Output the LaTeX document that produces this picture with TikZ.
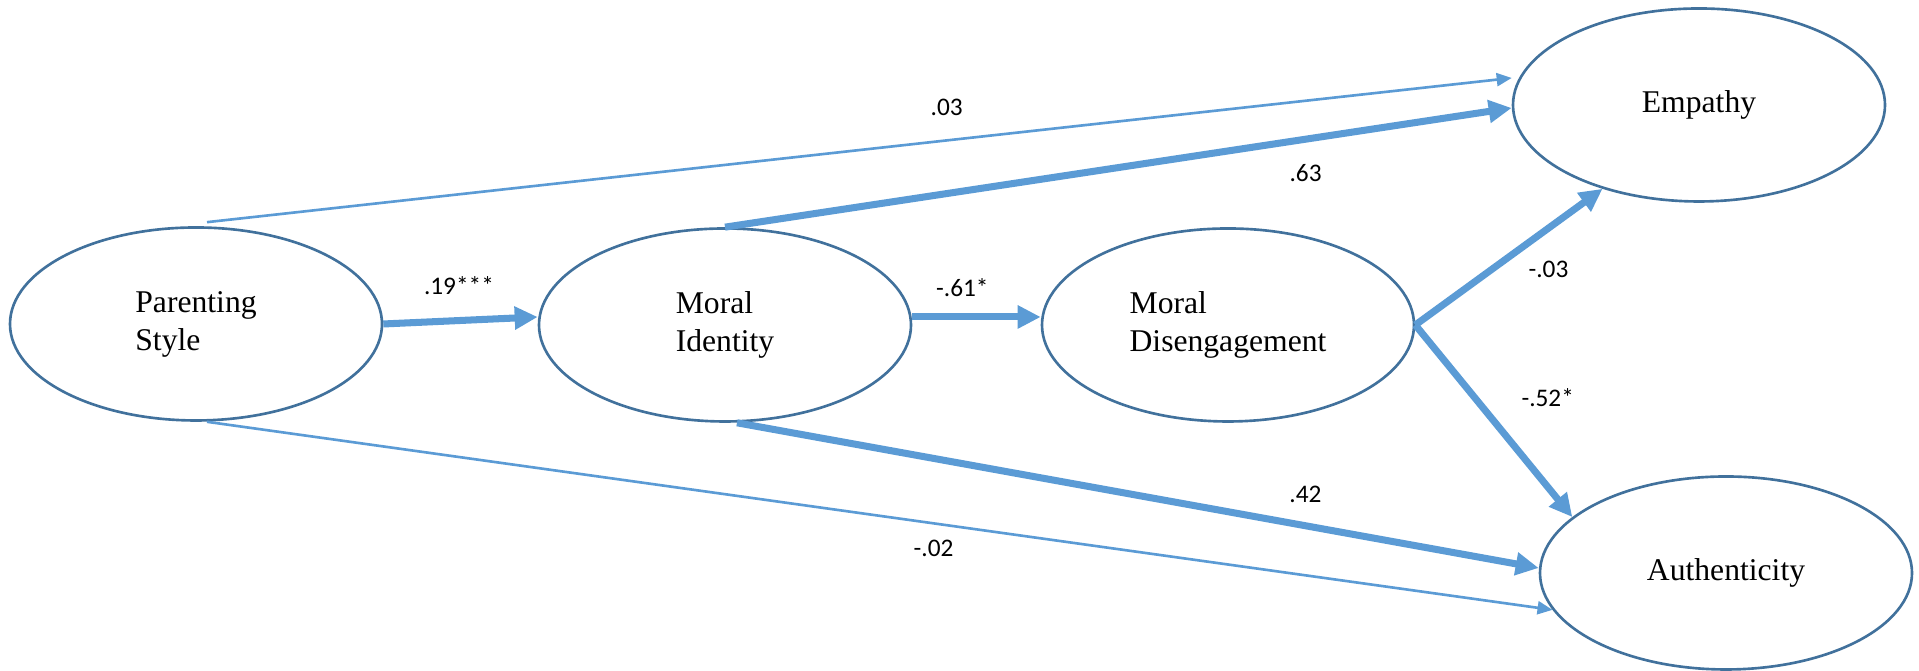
\documentclass[tikz,border=0pt]{standalone}
\usepackage{fontspec}
\setmainfont{Liberation Serif}
\newfontfamily\coeffont{Carlito}
\usetikzlibrary{shapes.geometric, arrows.meta}
\definecolor{rimblue}{HTML}{41719C}
\definecolor{pathblue}{HTML}{5B9BD5}

\begin{document}
\begin{tikzpicture}[scale=1, rotate=0,
construct/.style={ellipse, draw=rimblue, line width=0.75pt,
  minimum width=3.72cm, minimum height=1.93cm, inner sep=0pt,
  align=left, font=\fontsize{9}{10.8}\selectfont},
weak/.style={draw=pathblue, line width=0.75pt,
  -{Triangle[length=1.5mm, width=1.3mm]}},
strong/.style={draw=pathblue, line width=2pt,
  -{Triangle[length=2.3mm, width=2.2mm]}},
coef/.style={inner sep=0pt, font=\coeffont\fontsize{7.2}{8}\selectfont}
]
\useasboundingbox (0,0) rectangle (19.19,6.71);

% the five constructs of the model
\path
(1.96,3.47)   node[construct] (par)  {Parenting\\Style}
(7.25,3.46)   node[construct] (mid)  {Moral\\Identity}
(12.28,3.46)  node[construct] (mdis) {Moral\\Disengagement}
(16.99,5.66)  node[construct] (emp)  {Empathy}
(17.26,0.98)  node[construct] (aut)  {Authenticity};

% direct paths from parenting style, thin
\draw[weak] ([shift={(0.11,0.04)}]par.north) -- ([yshift=0.27cm]emp.west)
node[coef, pos=0.567, above=0.23cm] (c03) {.03};
\draw[weak] ([xshift=0.11cm]par.south) -- (aut.192)
node[coef, pos=0.54, below=0.15cm] (cm02) {-.02};

% paths over moral identity, thick
\draw[strong] (par.east) -- ([yshift=0.08cm]mid.west)
node[coef, pos=0.49, above=0.22cm] (c19) {.19***};
\draw[strong] ([yshift=0.08cm]mid.east) -- ([yshift=0.08cm]mdis.west)
node[coef, pos=0.39, above=0.17cm] (cm61) {-.61*};
\draw[strong] (mid.north) -- ([yshift=-0.03cm]emp.west)
node[coef, pos=0.738, below=0.22cm] (c63) {.63};
\draw[strong] ([xshift=0.12cm]mid.south) -- ([yshift=0.05cm]aut.west)
node[coef, pos=0.709, above=0.2cm] (c42) {.42};

% paths from moral disengagement
\draw[strong] (mdis.east) -- (emp.221)
node[coef, pos=0.41, right=0.33cm] (cm03) {-.03};
\draw[strong] (mdis.east) -- (aut.160)
node[coef, pos=0.38, right=0.43cm] (cm52) {-.52*};

\end{tikzpicture}
\end{document}
